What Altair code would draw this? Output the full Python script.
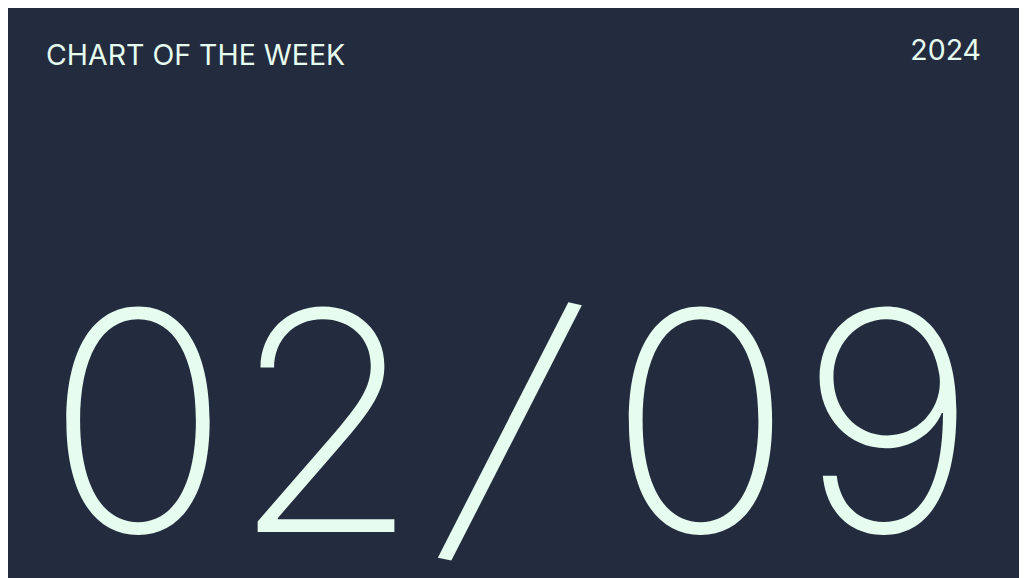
import altair as alt
import pandas as pd

header_left = ["CHART OF THE WEEK"]
header_right = ["2024"]
date_chars = ["0", "2", "/", "0", "9"]
date_slot = [0, 1, 2, 3, 4]

BG = "#232b3f"
FG = "#e6fcee"

left = alt.Chart(pd.DataFrame({"label": header_left})).mark_text(
    font="Inter", fontSize=28.5, color=FG, align="left", baseline="alphabetic"
).encode(text="label:N", x=alt.value(38), y=alt.value(57))

right = alt.Chart(pd.DataFrame({"label": header_right})).mark_text(
    font="Inter", fontSize=28.5, color=FG, align="right", baseline="alphabetic"
).encode(text="label:N", x=alt.value(973), y=alt.value(52))

date_df = pd.DataFrame({"ch": date_chars, "slot": date_slot})
xenc = alt.X("slot:Q", scale=alt.Scale(domain=[0, 4], range=[130, 880]), axis=None)

digits = alt.Chart(date_df).transform_filter("datum.ch != '/'").mark_text(
    font="Inter", fontSize=306, fontWeight=200, color=FG, align="center", baseline="alphabetic"
).encode(text="ch:N", x=xenc, y=alt.value(524))

slash = alt.Chart(date_df).transform_filter("datum.ch == '/'").mark_text(
    font="Inter", fontSize=318, fontWeight=200, color=FG, align="center",
    baseline="alphabetic", angle=12, dx=-24, dy=6
).encode(text="ch:N", x=xenc, y=alt.value(524))

chart = alt.layer(left, right, digits, slash).properties(
    width=1011, height=562, background=BG, padding=0
).configure_view(stroke=None)

chart.save("out.html", embed_options={"renderer": "svg", "actions": False})
